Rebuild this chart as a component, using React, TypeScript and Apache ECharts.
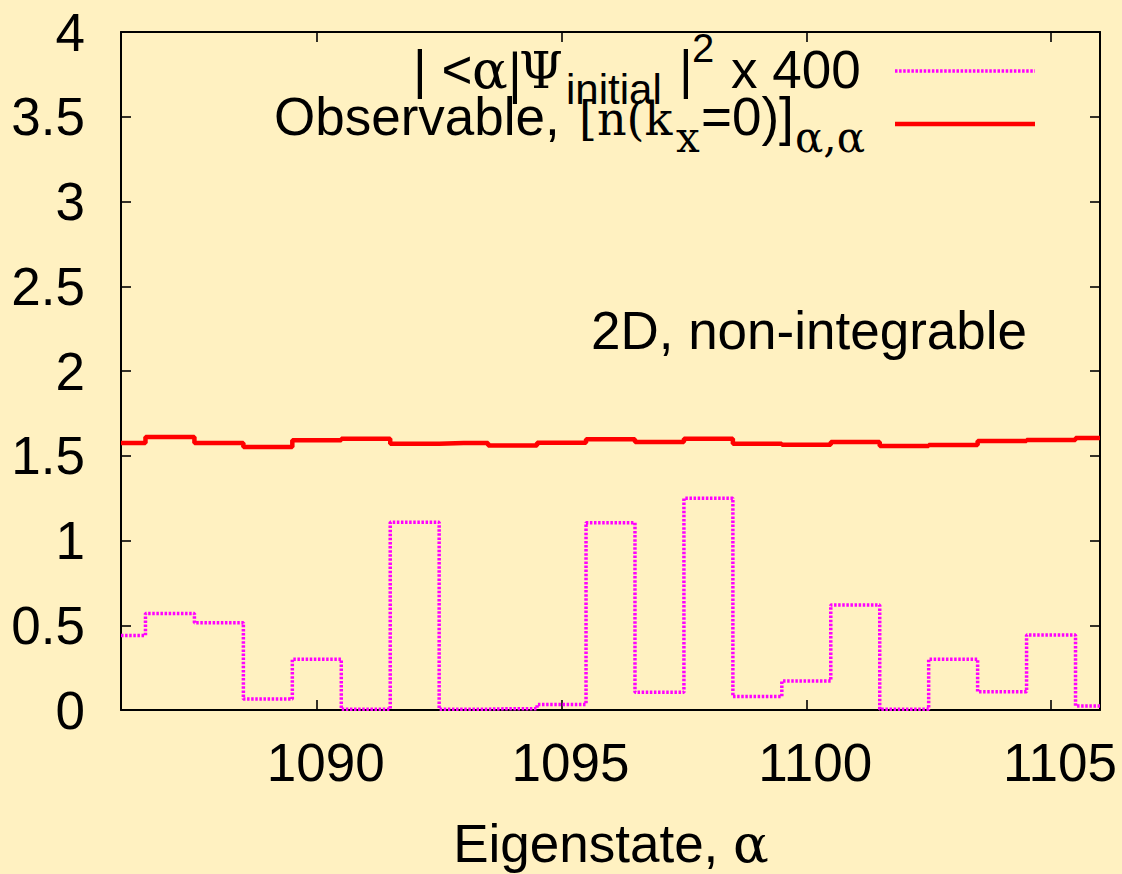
import React, { useEffect, useRef } from "react";
import * as echarts from "echarts";

// ---- data ----
const eigenstates = [
  1086, 1087, 1088, 1089, 1090, 1091, 1092, 1093, 1094, 1095, 1096,
  1097, 1098, 1099, 1100, 1101, 1102, 1103, 1104, 1105, 1106,
];
const overlapX400 = [
  0.44, 0.57, 0.515, 0.065, 0.3, 0.005, 1.107, 0.005, 0.008, 0.033, 1.105,
  0.104, 1.249, 0.079, 0.171, 0.62, 0.004, 0.3, 0.108, 0.442, 0.024,
];
const observable = [
  1.575, 1.61, 1.575, 1.552, 1.591, 1.6, 1.571, 1.575, 1.56, 1.577, 1.597,
  1.581, 1.6, 1.571, 1.565, 1.581, 1.557, 1.563, 1.587, 1.593, 1.605,
];
const xTickValues = [1090, 1095, 1100, 1105];
const xRange = [1086, 1106];
const yRange = [0, 4];
const yStep = 0.5;

const SANS = "'Liberation Sans', Arial, sans-serif";
const SERIF = "'DejaVu Serif', serif";
const FS = 53;
const FS_SUB = 42;
const BG = "#fff1c1";

const mid = (baseline: number, fs: number) => baseline - 0.347 * fs;

function txt(text: string, x: number, baseline: number, fs: number, family: string, align = "left") {
  return {
    type: "text",
    x,
    y: mid(baseline, fs),
    silent: true,
    style: {
      text,
      fontSize: fs,
      fontFamily: family,
      fill: "#000",
      align,
      verticalAlign: "middle",
    },
  };
}

export default function App() {
  const ref = useRef<HTMLDivElement>(null);

  useEffect(() => {
    if (!ref.current) return;
    const chart = echarts.init(ref.current, undefined, { renderer: "svg" });

    const axisLine = { show: true, onZero: false, lineStyle: { color: "#000", width: 2 } };
    const axisTick = (custom?: number[]) => ({
      show: true,
      inside: true,
      length: 10,
      lineStyle: { color: "#000", width: 1.6 },
      ...(custom ? { customValues: custom } : {}),
    });

    const option: any = {
      animation: false,
      backgroundColor: BG,
      grid: { left: 121, right: 22, top: 32, bottom: 164, containLabel: false, outerBoundsMode: "none" },
      xAxis: [
        {
          type: "value",
          position: "bottom",
          min: xRange[0],
          max: xRange[1],
          axisLine,
          axisTick: axisTick(xTickValues),
          axisLabel: {
            customValues: xTickValues,
            formatter: (v: number) => String(v),
            fontSize: FS,
            fontFamily: SANS,
            color: "#000",
            margin: 26,
            padding: [0, 0, 0, 18],
            hideOverlap: false,
          },
          splitLine: { show: false },
        },
        {
          type: "value",
          position: "top",
          min: xRange[0],
          max: xRange[1],
          axisLine,
          axisTick: axisTick(xTickValues),
          axisLabel: { show: false },
          splitLine: { show: false },
        },
      ],
      yAxis: [
        {
          type: "value",
          position: "left",
          min: yRange[0],
          max: yRange[1],
          interval: yStep,
          axisLine,
          axisTick: axisTick(),
          axisLabel: {
            formatter: (v: number) => String(v),
            fontSize: FS,
            fontFamily: SANS,
            color: "#000",
            margin: 36,
            hideOverlap: false,
          },
          splitLine: { show: false },
        },
        {
          type: "value",
          position: "right",
          min: yRange[0],
          max: yRange[1],
          interval: yStep,
          axisLine,
          axisTick: axisTick(),
          axisLabel: { show: false },
          splitLine: { show: false },
        },
      ],
      series: [
        {
          name: "overlap",
          type: "line",
          xAxisIndex: 0,
          yAxisIndex: 0,
          step: "middle",
          symbol: "none",
          showSymbol: false,
          data: eigenstates.map((x, i) => [x, overlapX400[i]]),
          lineStyle: { color: "#ff00ff", width: 3.5, type: [2.5, 1.6] },
          z: 3,
        },
        {
          name: "observable",
          type: "line",
          xAxisIndex: 0,
          yAxisIndex: 0,
          step: "middle",
          symbol: "none",
          showSymbol: false,
          data: eigenstates.map((x, i) => [x, observable[i]]),
          lineStyle: { color: "#ff0000", width: 4.5 },
          z: 4,
        },
      ],
      graphic: [
        // legend line 1
        txt("| <", 413, 88, FS, SANS),
        txt("α", 472, 88, FS, SERIF),
        txt("|", 506, 92, FS, SERIF),
        txt("Ψ", 519, 88, 50, SERIF),
        txt("initial", 566, 104, FS_SUB, SANS),
        txt("|", 679, 88, FS, SANS),
        txt("2", 692, 62, 40, SANS),
        txt("x 400", 731, 88, FS, SANS),
        // legend line 2
        txt("Observable,", 274, 135, FS, SANS),
        txt("[n(k", 579, 135, 46, SERIF),
        txt("x", 676, 152, FS_SUB, SERIF),
        txt("=0)]", 701, 135, FS, SANS),
        txt("α,α", 795, 152, FS_SUB, SERIF),
        // legend samples
        {
          type: "line",
          silent: true,
          shape: { x1: 895, y1: 71, x2: 1035, y2: 71 },
          style: { stroke: "#ff00ff", lineWidth: 3.5, lineDash: [2.5, 1.6] },
        },
        {
          type: "line",
          silent: true,
          shape: { x1: 895, y1: 124, x2: 1035, y2: 124 },
          style: { stroke: "#ff0000", lineWidth: 4.5 },
        },
        // annotation
        txt("2D, non-integrable", 1027, 349, FS, SANS, "right"),
        // x-axis title
        {
          type: "text",
          x: 611,
          y: mid(862, FS),
          silent: true,
          style: {
            text: "Eigenstate, {g|α}",
            fontSize: FS,
            fontFamily: SANS,
            fill: "#000",
            align: "center",
            verticalAlign: "middle",
            rich: { g: { fontSize: FS, fontFamily: SERIF, fill: "#000" } },
          },
        },
      ],
    };

    chart.setOption(option);
    return () => chart.dispose();
  }, []);

  return (
    <div
      ref={ref}
      style={{ position: "fixed", left: 0, top: 0, width: 1122, height: 874, background: BG }}
    />
  );
}
